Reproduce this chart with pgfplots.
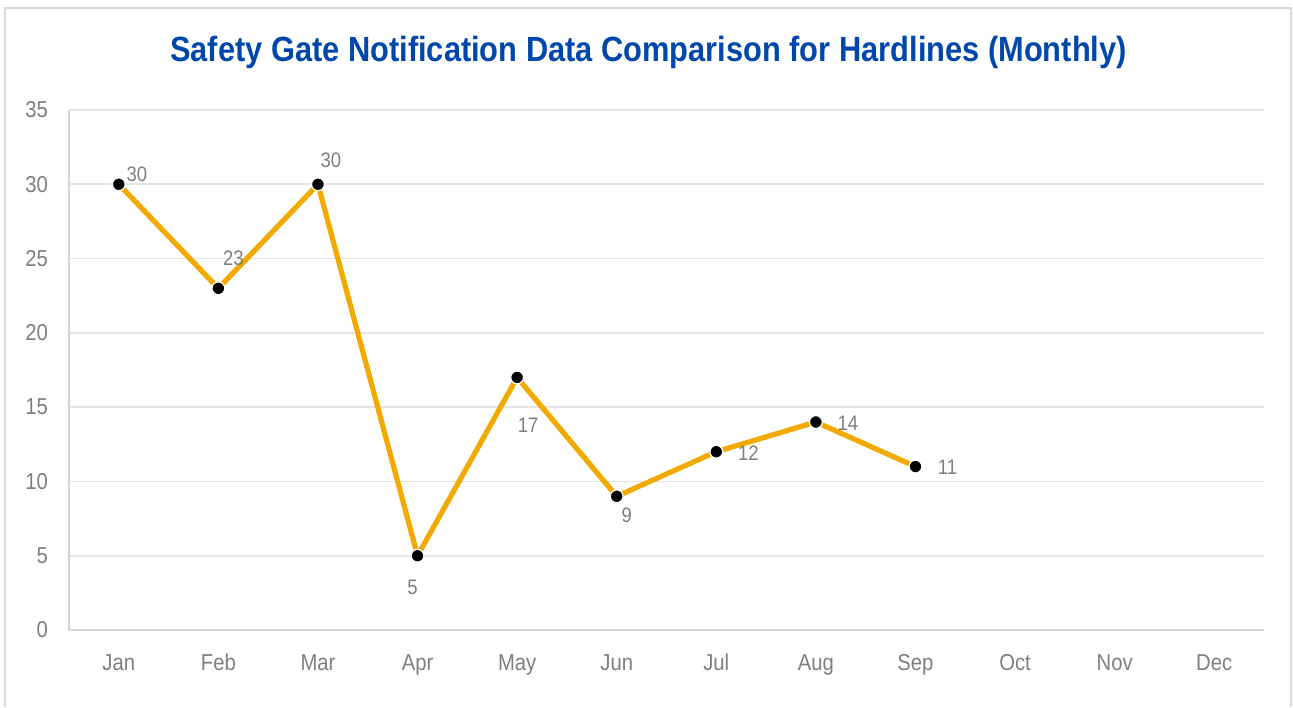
\documentclass[border=0pt]{standalone}
\usepackage{fontspec}
\setmainfont{Liberation Sans}
\newfontfamily\narrowfont{Liberation Sans}[FakeStretch=0.88]
\usepackage{pgfplots}
\pgfplotsset{compat=1.18}
\usepackage{pgfplotstable}
\definecolor{titleblue}{HTML}{0047AB}
\definecolor{lineor}{HTML}{F2AA00}
\definecolor{gridg}{HTML}{E4E4E4}
\definecolor{axisg}{HTML}{D4D4D4}
\definecolor{txtg}{HTML}{7F7F7F}
\definecolor{frameg}{HTML}{D9D9D9}
\pgfplotstableread{
x y dx dy
0 30 9 5
1 23 7.5 15
2 30 6.5 12
3 5 -2.5 -16
4 17 5.5 -24
5 9 5 -9.5
6 12 16 -0.5
7 14 16 -0.5
8 11 16 -0.5
}\datatable
\begin{document}
\begin{tikzpicture}
\path[use as bounding box] (0,0) rectangle (646.5pt,353.5pt);
\fill[white] (0,0) rectangle (646.5pt,353.5pt);
\draw[frameg, line width=0.8pt] (2.5pt,0) -- (2.5pt,349.5pt) -- (645.5pt,349.5pt) -- (645.5pt,0);
\node[anchor=base, text=titleblue, font=\fontsize{17.5pt}{20pt}\selectfont\bfseries, inner sep=0pt] at (324.25pt,322.5pt) {\scalebox{0.88}[1]{Safety Gate Notification Data Comparison for Hardlines (Monthly)}};
\begin{axis}[
  at={(34.5pt,38.5pt)}, anchor=south west,
  scale only axis, width=597.5pt, height=260pt,
  xmin=-0.5, xmax=11.5, ymin=0, ymax=35,
  xtick={0,...,11},
  xticklabels={Jan,Feb,Mar,Apr,May,Jun,Jul,Aug,Sep,Oct,Nov,Dec},
  ytick={0,5,...,35},
  axis x line*=bottom, axis y line*=left,
  axis line style={axisg, line width=0.8pt},
  ymajorgrids, grid style={gridg, line width=0.8pt},
  major tick style={draw=none},
  tick label style={text=txtg, font=\narrowfont\fontsize{11.5pt}{13pt}\selectfont},
  /pgf/number format/assume math mode=true,
  yticklabel style={xshift=-7pt},
  xticklabel style={yshift=-8.5pt, text height=8.2pt, text depth=2pt},
  clip=false,
]
\addplot[lineor, line width=2.6pt, line join=round] table[x=x,y=y] {\datatable};
\addplot[only marks, mark=*, mark size=3.2pt, mark options={fill=black, draw=white, line width=0.6pt},
  nodes near coords,
  visualization depends on={\thisrow{dx}\as\dx},
  visualization depends on={\thisrow{dy}\as\dy},
  every node near coord/.append style={anchor=center, xshift=\dx pt, yshift=\dy pt, text=txtg, font=\narrowfont\fontsize{10.5pt}{12pt}\selectfont, /pgf/number format/assume math mode=true},
] table[x=x,y=y] {\datatable};
\end{axis}
\end{tikzpicture}
\end{document}
